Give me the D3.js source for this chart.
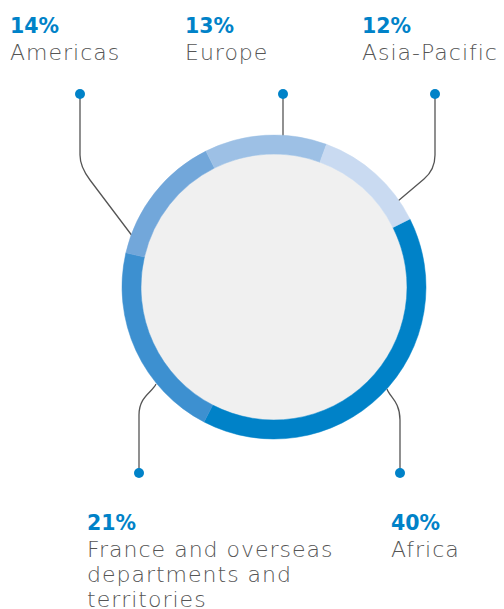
<!DOCTYPE html>
<html>
<head>
<meta charset="utf-8">
<script src="https://cdn.jsdelivr.net/npm/d3@7"></script>
<style>
  body { margin: 0; background: #fff; }
  svg { display: block; }
  .pct { font-family: "DejaVu Sans", sans-serif; font-weight: bold; fill: #0082c8; }
  .lbl { font-family: "DejaVu Sans", sans-serif; font-weight: 200; fill: #555; }
</style>
</head>
<body>
<div id="chart"></div>
<script>
// data, clockwise order round the ring
var regions = ["Africa", "France and overseas departments and territories", "Americas", "Europe", "Asia-Pacific"];
var shares = [40, 21, 14, 13, 12];
var colours = ["#0082c8", "#3d90d0", "#72a7da", "#9dc0e5", "#c9daf1"];
// label text lines for each region
var labelLines = [["Africa"], ["France and overseas", "departments and", "territories"], ["Americas"], ["Europe"], ["Asia-Pacific"]];

var width = 504, height = 609;
var cx = 274, cy = 287;
var outerR = 152, innerR = 133;

// where each label sits and how its leader runs (dot -> bend -> ring)
var layout = [
  {tx: 391, ty: 530, dot: [400, 473], bend: [400, 420], end: [387, 389]},
  {tx: 87,  ty: 530, dot: [139, 473], bend: [139, 415], end: [156, 384]},
  {tx: 10,  ty: 33,  dot: [80, 94],   bend: [80, 155],  mid: [90, 180], end: [133, 237]},
  {tx: 185, ty: 33,  dot: [283, 94],  bend: [283, 120], end: [283, 140]},
  {tx: 362, ty: 33,  dot: [435, 94],  bend: [435, 155], mid: [424, 179], end: [398, 201]}
];

var svg = d3.select("#chart").append("svg")
    .attr("width", width)
    .attr("height", height);

// leader lines
layout.forEach(function(l, i) {
  var p = d3.path();
  p.moveTo(l.dot[0], l.dot[1]);
  p.lineTo(l.bend[0], l.bend[1]);
  if (l.mid) {
    // smooth bend into the diagonal run
    var dx = l.end[0] - l.mid[0], dy = l.end[1] - l.mid[1];
    var len = Math.sqrt(dx * dx + dy * dy);
    p.bezierCurveTo(l.bend[0], l.bend[1] + 10,
                    l.mid[0] - dx / len * 8, l.mid[1] - dy / len * 8,
                    l.mid[0], l.mid[1]);
    p.lineTo(l.end[0], l.end[1]);
  } else if (l.end[0] != l.bend[0]) {
    p.bezierCurveTo(l.bend[0], l.bend[1] + (l.end[1] - l.bend[1]) * 0.6,
                    l.end[0] + (l.bend[0] - l.end[0]) * 0.2, l.end[1] + (l.bend[1] > l.end[1] ? 8 : -8),
                    l.end[0], l.end[1]);
  } else {
    p.lineTo(l.end[0], l.end[1]);
  }
  svg.append("path")
    .attr("d", p.toString())
    .attr("fill", "none")
    .attr("stroke", "#555")
    .attr("stroke-width", 1.3);
});

// inner disc
svg.append("circle")
  .attr("cx", cx).attr("cy", cy)
  .attr("r", innerR)
  .attr("fill", "#f0f0f0");

var pie = d3.pie()
  .sort(null)
  .startAngle(63.4 * Math.PI / 180)
  .endAngle(63.4 * Math.PI / 180 + 2 * Math.PI);

var arc = d3.arc()
  .innerRadius(innerR)
  .outerRadius(outerR);

svg.append("g")
  .attr("transform", "translate(" + cx + "," + cy + ")")
  .selectAll("path")
  .data(pie(shares))
  .enter()
  .append("path")
  .attr("d", arc)
  .attr("fill", function(d, i) { return colours[i]; })
  .attr("stroke", function(d, i) { return colours[i]; })
  .attr("stroke-width", 0.5);

// dots
svg.selectAll(".dot")
  .data(layout)
  .enter()
  .append("circle")
  .attr("class", "dot")
  .attr("cx", function(d) { return d.dot[0]; })
  .attr("cy", function(d) { return d.dot[1]; })
  .attr("r", 5)
  .attr("fill", "#0082c8");

// labels
layout.forEach(function(l, i) {
  svg.append("text")
    .attr("class", "pct")
    .attr("x", l.tx)
    .attr("y", l.ty)
    .attr("font-size", 20.5)
    .text(shares[i] + "%");
  labelLines[i].forEach(function(line, j) {
    svg.append("text")
      .attr("class", "lbl")
      .attr("x", l.tx)
      .attr("y", l.ty + 27 + j * 25)
      .attr("font-size", 22)
      .attr("letter-spacing", 1)
      .text(line);
  });
});
</script>
</body>
</html>
